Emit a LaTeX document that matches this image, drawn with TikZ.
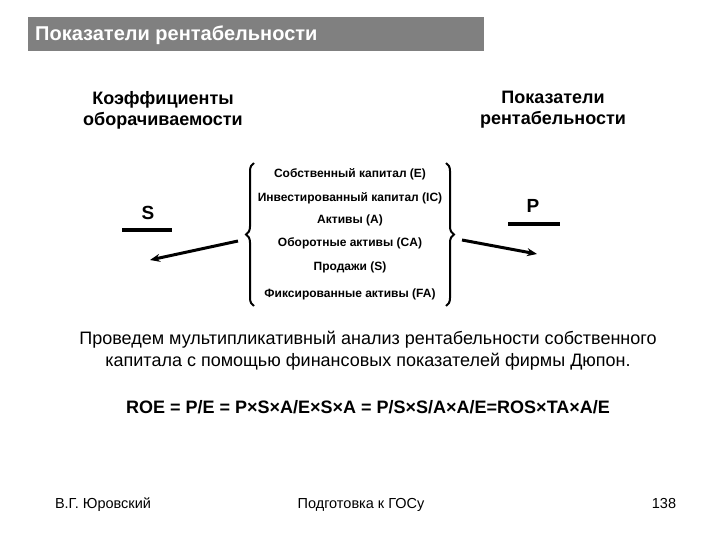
\documentclass[tikz,border=0pt]{standalone}
\usepackage{fontspec}
\setmainfont{Liberation Sans}
\usetikzlibrary{decorations.pathreplacing,arrows.meta}
\begin{document}
\begin{tikzpicture}[x=1pt,y=-1pt,
 item/.style={font=\bfseries\fontsize{12}{14}\selectfont,inner sep=0},
 head/.style={font=\bfseries\fontsize{18}{21}\selectfont,align=center,inner sep=0},
 foot/.style={font=\fontsize{14.5}{16}\selectfont,inner sep=0,anchor=base},
 arr/.style={line width=3pt,-{Stealth[length=10pt,width=8pt]}}]
\useasboundingbox (0,0) rectangle (720,540);
\fill[gray] (28,17) rectangle (484,51);
\node[anchor=west,text=white,font=\bfseries\fontsize{20}{22}\selectfont,inner sep=0] (title) at (35,35) {Показатели рентабельности};
\node[head] (k) at (163,110) {Коэффициенты\\оборачиваемости};
\node[head] (pr) at (553,110) {Показатели\\рентабельности};
\node[item] (i1) at (350,174) {Собственный капитал (E)};
\node[item] (i2) at (350,198) {Инвестированный капитал (IC)};
\node[item] (i3) at (350,220) {Активы (A)};
\node[item] (i4) at (350,243) {Оборотные активы (CA)};
\node[item] (i5) at (350,267) {Продажи (S)};
\node[item] (i6) at (350,294) {Фиксированные активы (FA)};
\draw[line width=2pt,decorate,decoration={brace,amplitude=8pt}] (254,306) -- (254,163);
\draw[line width=2pt,decorate,decoration={brace,amplitude=8pt}] (446,163) -- (446,306);
\node[font=\bfseries\fontsize{19}{21}\selectfont,inner sep=0] (s) at (148,213) {S};
\draw[line width=3.5pt] (122,230) -- (172,230);
\node[font=\bfseries\fontsize{19}{21}\selectfont,inner sep=0] (p) at (533,206) {P};
\draw[line width=3.5pt] (508,224) -- (560,224);
\coordinate (la) at (238,241); \coordinate (lb) at (150,260);
\coordinate (ra) at (462,240); \coordinate (rb) at (537,254);
\draw[arr] (la) -- (lb);
\draw[arr] (ra) -- (rb);
\node[font=\fontsize{18}{22}\selectfont,align=center,inner sep=0] (txt) at (368,351) {Проведем мультипликативный анализ рентабельности собственного\\капитала с помощью финансовых показателей фирмы Дюпон.};
\node[font=\bfseries\fontsize{18}{20}\selectfont,inner sep=0] (f) at (368,407) {ROE = P/E = P×S×A/E×S×A = P/S×S/A×A/E=ROS×TA×A/E};
\node[foot] (f1) at (103,508) {В.Г. Юровский};
\node[foot] (f2) at (361,508) {Подготовка к ГОСу};
\node[foot] (f3) at (664,508) {138};
\end{tikzpicture}
\end{document}
